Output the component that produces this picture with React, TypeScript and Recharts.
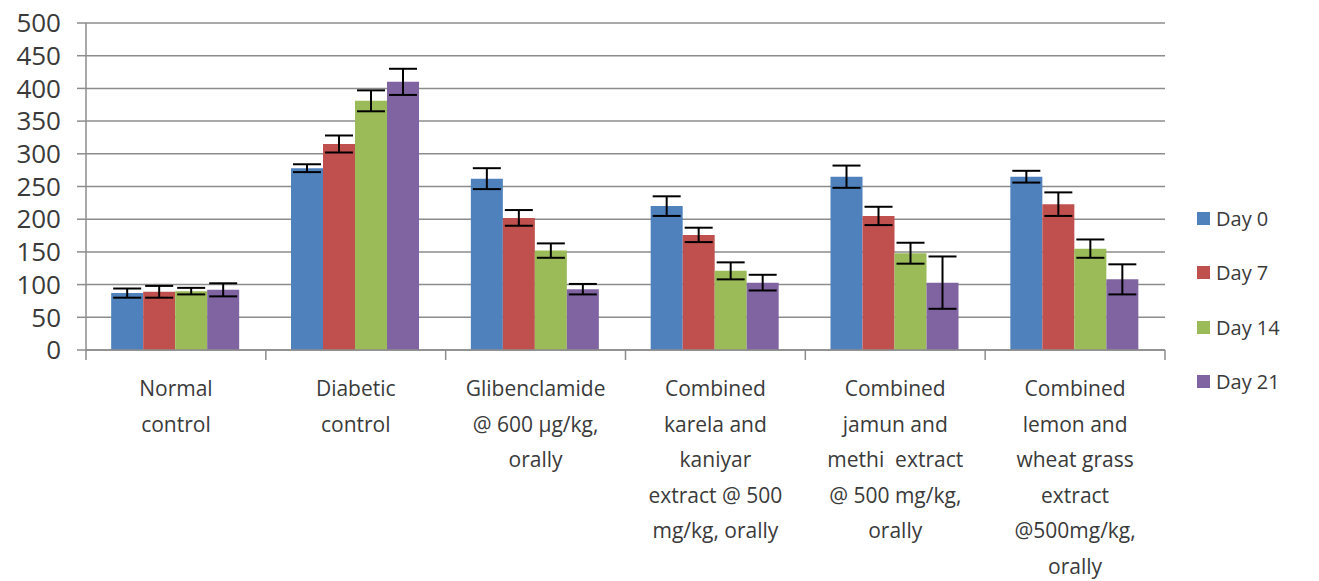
import { BarChart, Bar, XAxis, YAxis, CartesianGrid, Legend, ErrorBar } from "recharts";

const categories: string[][] = [
  ["Normal", "control"],
  ["Diabetic", "control"],
  ["Glibenclamide", "@ 600 µg/kg,", "orally"],
  ["Combined", "karela and", "kaniyar", "extract @ 500", "mg/kg, orally"],
  ["Combined", "jamun and", "methi  extract", "@ 500 mg/kg,", "orally"],
  ["Combined", "lemon and", "wheat grass", "extract", "@500mg/kg,", "orally"],
];

const seriesNames = ["Day 0", "Day 7", "Day 14", "Day 21"];
const seriesColors = ["#4F81BD", "#C0504D", "#9BBB59", "#8064A2"];

const day0 = [87, 278, 262, 220, 265, 265];
const day7 = [89, 315, 202, 176, 205, 223];
const day14 = [90, 381, 152, 121, 148, 155];
const day21 = [92, 410, 93, 103, 103, 108];

const err0 = [7, 6, 16, 15, 17, 9];
const err7 = [9, 13, 12, 11, 14, 18];
const err14 = [5, 16, 11, 13, 16, 14];
const err21 = [10, 20, 8, 12, 40, 23];

const yTicks = [0, 50, 100, 150, 200, 250, 300, 350, 400, 450, 500];

const W = 1319;
const H = 581;
const xAxisHeight = 30;
const margin = { top: 23, right: 154, bottom: 231 - xAxisHeight, left: 16 };
const yAxisWidth = 70;
const plotWidth = W - margin.left - margin.right - yAxisWidth;
const bandWidth = plotWidth / categories.length;

const FONT = "'Open Sans', sans-serif";
const TEXT = "#3a3a3a";
const GRID = "#8c8c8c";

const data = categories.map((lines, i) => ({
  name: lines.join(" "),
  lines,
  d0: day0[i],
  d7: day7[i],
  d14: day14[i],
  d21: day21[i],
  e0: err0[i],
  e7: err7[i],
  e14: err14[i],
  e21: err21[i],
}));

const keys = [
  ["d0", "e0"],
  ["d7", "e7"],
  ["d14", "e14"],
  ["d21", "e21"],
];

function CategoryTick(props: any) {
  const { x, y, index } = props;
  const lines: string[] = categories[index] || [];
  const left = x - bandWidth / 2;
  const right = x + bandWidth / 2;
  return (
    <g>
      <line x1={left} y1={y} x2={left} y2={y + 10} stroke={GRID} strokeWidth={1.5} />
      {index === categories.length - 1 && (
        <line x1={right} y1={y} x2={right} y2={y + 10} stroke={GRID} strokeWidth={1.5} />
      )}
      <text x={x} y={y + 46} textAnchor="middle" fill={TEXT} fontSize={21} fontFamily={FONT}>
        {lines.map((l, i) => (
          <tspan key={i} x={x} dy={i === 0 ? 0 : 35.5} style={{ whiteSpace: "pre" }}>
            {l}
          </tspan>
        ))}
      </text>
    </g>
  );
}

function LegendContent() {
  return (
    <div style={{ fontFamily: FONT, fontSize: 20, color: TEXT }}>
      {seriesNames.map((n, i) => (
        <div key={n} style={{ display: "flex", alignItems: "center", height: 54.5 }}>
          <span style={{ width: 13, height: 13, background: seriesColors[i], marginRight: 6, display: "inline-block" }} />
          <span>{n}</span>
        </div>
      ))}
    </div>
  );
}

export default function App() {
  return (
    <div style={{ position: "absolute", left: 0, top: 0, background: "#fff" }}>
      <BarChart width={W} height={H} data={data} margin={margin} barCategoryGap="14%" barGap={0}>
        <CartesianGrid vertical={false} stroke={GRID} strokeWidth={1.5} />
        <XAxis
          dataKey="name"
          height={xAxisHeight}
          axisLine={{ stroke: GRID, strokeWidth: 1.5 }}
          tickLine={false}
          tickSize={0}
          tickMargin={0}
          interval={0}
          tick={<CategoryTick />}
        />
        <YAxis
          width={yAxisWidth}
          domain={[0, 500]}
          ticks={yTicks}
          interval={0}
          axisLine={{ stroke: GRID, strokeWidth: 1.5 }}
          tickLine={{ stroke: GRID, strokeWidth: 1.5 }}
          tickSize={9}
          tickMargin={16}
          tick={{ fill: TEXT, fontSize: 26, fontFamily: FONT }}
        />
        <Legend
          layout="vertical"
          align="center"
          verticalAlign="middle"
          content={<LegendContent />}
          wrapperStyle={{ left: 1197, top: 191, width: 120 }}
        />
        {keys.map(([k, e], i) => (
          <Bar key={k} dataKey={k} name={seriesNames[i]} fill={seriesColors[i]} isAnimationActive={false}>
            <ErrorBar dataKey={e} width={14} stroke="#000" strokeWidth={2} direction="y" />
          </Bar>
        ))}
      </BarChart>
    </div>
  );
}
